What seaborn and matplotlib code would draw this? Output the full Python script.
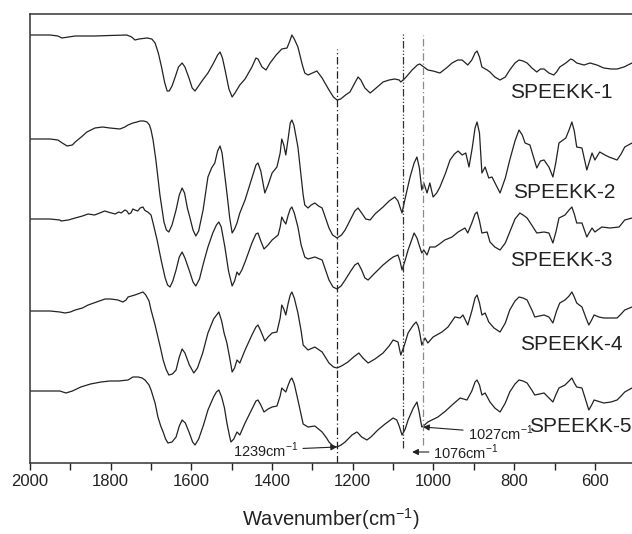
import matplotlib
matplotlib.use("Agg")
import matplotlib.pyplot as plt
import numpy as np
import pandas as pd
import seaborn as sns

# FTIR spectra of the SPEEKK membranes (offset transmittance, arbitrary units)
samples = ["SPEEKK-1", "SPEEKK-2", "SPEEKK-3", "SPEEKK-4", "SPEEKK-5"]

wn_1 = [2000, 1950, 1931, 1921, 1888, 1839, 1802, 1760, 1748, 1740, 1730, 1710, 1698, 1690,
        1682, 1674, 1666, 1660, 1655, 1648, 1641, 1632, 1623, 1616, 1606, 1598, 1591, 1584,
        1572, 1559, 1545, 1535, 1529, 1523, 1516, 1507, 1499, 1492, 1480, 1467, 1450, 1440,
        1435, 1425, 1415, 1405, 1390, 1376, 1363, 1356, 1351, 1345, 1336, 1325, 1319, 1311,
        1300, 1289, 1276, 1259, 1248, 1239, 1230, 1218, 1207, 1195, 1187, 1180, 1170, 1157,
        1145, 1125, 1110, 1096, 1085, 1081, 1070, 1053, 1040, 1034, 1024, 1014, 1001, 984,
        968, 954, 940, 929, 915, 905, 897, 892, 886, 880, 867, 860, 848, 835, 822, 811, 798,
        788, 778, 768, 756, 744, 735, 726, 714, 702, 695, 687, 672, 660, 654, 645, 627, 612,
        595, 578, 560, 545, 528, 508]
tr_1 = [428, 428, 427, 425, 427, 427, 427.5, 428, 426, 423, 424, 425, 424, 420,
        410, 396, 380, 372, 372, 377, 385, 396, 400, 396, 385, 375, 372, 376,
        383, 390, 400, 408, 411, 405, 392, 374, 366, 370, 378, 384, 396, 405,
        404, 396, 393, 400, 408, 414, 415, 422, 428, 424, 416, 398, 390, 388,
        390, 392, 385, 373, 366, 363, 364, 368, 371, 380, 386, 383, 375, 370,
        374, 381, 383, 384, 383, 381, 385, 393, 398, 399, 396, 393, 392, 390,
        395, 400, 403, 403, 398, 403, 410, 412, 406, 396, 393, 391, 386, 383, 386, 393, 400,
        403, 402, 400, 395, 391, 394, 394, 390, 388, 391, 396, 400, 404, 403, 400, 398, 400,
        398, 395, 394, 394, 396, 400]

wn_2 = [2000, 1950, 1931, 1920, 1908, 1895, 1888, 1870, 1859, 1839, 1820, 1802, 1777, 1765,
        1757, 1745, 1735, 1727, 1718, 1710, 1704, 1700, 1695, 1688, 1678, 1668, 1662, 1656,
        1648, 1638, 1630, 1623, 1617, 1610, 1604, 1596, 1589, 1582, 1571, 1559, 1550, 1542,
        1535, 1529, 1524, 1518, 1512, 1505, 1499, 1493, 1487, 1480, 1467, 1450, 1440, 1435,
        1428, 1418, 1410, 1400, 1388, 1380, 1376, 1371, 1366, 1360, 1355, 1351, 1346, 1340,
        1336, 1329, 1323, 1319, 1311, 1303, 1294, 1285, 1276, 1265, 1259, 1250, 1239, 1228,
        1219, 1205, 1195, 1187, 1178, 1168, 1157, 1145, 1125, 1110, 1096, 1088, 1083, 1078,
        1070, 1058, 1048, 1041, 1035, 1029, 1024, 1016, 1009, 1001, 992, 984, 970, 959, 948,
        939, 929, 920, 912, 904, 897, 892, 886, 880, 872, 863, 855, 845, 835, 822, 811, 798,
        788, 780, 773, 761, 744, 735, 726, 714, 704, 697, 689, 672, 664, 657, 651, 645, 632,
        620, 613, 607, 600, 588, 575, 565, 545, 535, 526, 508]
tr_2 = [324, 324, 323, 320, 317, 318, 321, 327, 331, 335, 336, 335, 334, 336,
        338, 340, 341, 342, 342, 341, 338, 333, 323, 303, 268, 241, 233, 231,
        238, 253, 268, 275, 270, 255, 246, 233, 227, 232, 253, 286, 295, 300,
        312, 317, 310, 290, 270, 245, 230, 234, 240, 250, 263, 285, 298, 300,
        292, 270, 278, 290, 296, 310, 324, 318, 308, 325, 340, 343, 338, 325,
        316, 290, 268, 258, 255, 258, 260, 257, 255, 242, 235, 228, 225, 228,
        233, 244, 252, 255, 250, 244, 243, 249, 256, 262, 266, 262, 256, 250,
        265, 286, 300, 306, 295, 273, 280, 270, 280, 266, 270, 276, 290, 303, 309,
        312, 308, 310, 296, 315, 335, 341, 330, 290, 296, 285, 286, 278, 270, 285, 303, 322,
        333, 328, 320, 318, 295, 302, 303, 296, 286, 300, 320, 325, 333, 341, 332, 316, 315,
        293, 302, 310, 303, 311, 308, 306, 303, 309, 316, 320]

wn_3 = [2000, 1950, 1926, 1923, 1905, 1888, 1870, 1856, 1840, 1827, 1815, 1807, 1798, 1789,
        1780, 1774, 1765, 1760, 1755, 1750, 1745, 1740, 1733, 1727, 1720, 1716, 1713, 1708,
        1700, 1695, 1685, 1675, 1665, 1659, 1653, 1646, 1638, 1630, 1623, 1616, 1604, 1596,
        1589, 1580, 1570, 1559, 1547, 1538, 1532, 1526, 1517, 1508, 1499, 1493, 1487, 1482,
        1475, 1467, 1450, 1440, 1435, 1428, 1420, 1410, 1400, 1385, 1380, 1376, 1371, 1366,
        1360, 1355, 1351, 1345, 1336, 1328, 1319, 1311, 1294, 1276, 1265, 1259, 1249, 1239,
        1229, 1219, 1205, 1195, 1187, 1178, 1170, 1162, 1145, 1125, 1110, 1100, 1088, 1083,
        1078, 1070, 1063, 1055, 1048, 1041, 1034, 1029, 1024, 1016, 1009, 996, 985, 972, 954,
        939, 922, 915, 905, 897, 892, 886, 880, 867, 860, 848, 835, 822, 811, 798, 786, 778,
        768, 755, 744, 726, 714, 704, 696, 689, 674, 664, 657, 651, 645, 632, 620, 613, 607,
        600, 583, 563, 540, 526, 508]
tr_3 = [244, 244, 243, 242, 243, 245, 247, 249, 248, 250, 252, 251, 250, 249,
        251, 250, 253, 252, 249, 250, 254, 253, 252, 255, 256, 253, 252, 251,
        248, 240, 223, 203, 185, 178, 176, 182, 193, 206, 211, 205, 191, 181,
        177, 184, 200, 216, 230, 238, 241, 236, 216, 192, 177, 182, 191, 188,
        193, 201, 220, 229, 230, 222, 214, 218, 223, 228, 236, 246, 242, 239,
        248, 254, 256, 250, 236, 218, 206, 204, 206, 203, 190, 183, 176, 174,
        177, 183, 192, 198, 200, 193, 185, 183, 190, 198, 203, 206, 208, 202,
        193, 203, 213, 222, 230, 225, 216, 210, 213, 208, 216, 216, 219, 223, 226,
        231, 235, 230, 240, 249, 251, 242, 230, 231, 221, 216, 213, 220, 231, 244, 250, 248,
        245, 237, 230, 231, 230, 220, 232, 245, 248, 253, 256, 249, 240, 240, 226, 231, 235,
        231, 236, 235, 236, 243, 245]

wn_4 = [2000, 1950, 1926, 1913, 1900, 1888, 1870, 1856, 1835, 1814, 1800, 1782, 1770, 1762,
        1757, 1740, 1727, 1720, 1713, 1705, 1700, 1690, 1683, 1676, 1670, 1663, 1656, 1647,
        1638, 1630, 1623, 1616, 1605, 1594, 1585, 1572, 1559, 1545, 1532, 1525, 1519, 1512,
        1505, 1499, 1493, 1487, 1480, 1467, 1450, 1440, 1435, 1428, 1418, 1410, 1400, 1388,
        1380, 1376, 1371, 1366, 1360, 1355, 1351, 1345, 1336, 1328, 1323, 1311, 1294, 1276,
        1265, 1259, 1248, 1239, 1228, 1212, 1198, 1185, 1175, 1162, 1145, 1125, 1110, 1100,
        1088, 1081, 1072, 1063, 1050, 1043, 1038, 1034, 1029, 1021, 1014, 1001, 979, 964,
        947, 934, 927, 915, 905, 897, 892, 886, 880, 872, 863, 850, 835, 822, 811, 798, 788,
        778, 768, 755, 749, 726, 714, 704, 695, 687, 674, 664, 657, 651, 645, 632, 622, 615,
        608, 602, 590, 578, 545, 535, 526, 508]
tr_4 = [152, 152, 151, 150, 151, 153, 155, 158, 161, 164, 164, 163, 161, 163,
        166, 168, 170, 171, 168, 162, 153, 138, 126, 114, 103, 94, 88, 89,
        93, 106, 114, 110, 98, 90, 95, 110, 130, 144, 151, 142, 130, 120,
        105, 91, 95, 103, 100, 113, 128, 136, 138, 132, 122, 126, 130, 131,
        145, 158, 154, 148, 160, 168, 171, 165, 150, 132, 118, 113, 116, 111,
        104, 100, 96, 95, 97, 101, 106, 110, 105, 100, 104, 110, 117, 123,
        121, 108, 118, 130, 138, 141, 137, 130, 118, 125, 120, 126, 131, 136,
        146, 145, 148, 138, 152, 165, 168, 160, 148, 150, 141, 135, 131, 140, 153, 162, 166,
        165, 163, 152, 146, 148, 146, 140, 152, 160, 163, 167, 171, 166, 160, 156, 145, 138,
        143, 148, 146, 145, 145, 149, 153, 156]

wn_5 = [2000, 1950, 1926, 1911, 1895, 1874, 1850, 1824, 1802, 1780, 1757, 1745, 1732, 1722,
        1715, 1705, 1700, 1690, 1683, 1676, 1670, 1664, 1658, 1648, 1638, 1630, 1623, 1615,
        1605, 1597, 1591, 1582, 1570, 1559, 1545, 1538, 1532, 1525, 1518, 1512, 1506, 1502,
        1495, 1487, 1480, 1467, 1450, 1440, 1435, 1428, 1420, 1410, 1400, 1388, 1380, 1376,
        1371, 1366, 1360, 1355, 1351, 1345, 1336, 1328, 1323, 1311, 1294, 1276, 1265, 1259,
        1249, 1239, 1229, 1219, 1202, 1190, 1187, 1178, 1165, 1155, 1138, 1120, 1100, 1091,
        1085, 1078, 1070, 1063, 1050, 1041, 1036, 1029, 1022, 1014, 989, 970, 954, 934, 917,
        905, 897, 892, 886, 880, 872, 860, 848, 835, 822, 811, 798, 788, 778, 768, 755, 749,
        726, 704, 697, 689, 674, 664, 657, 651, 645, 632, 622, 615, 608, 602, 578, 560, 545,
        535, 526, 508]
tr_5 = [72, 72, 72, 70, 72, 76, 79, 81, 82, 82, 83, 86, 86, 85,
        83, 78, 73, 60, 46, 37, 31, 24, 20, 21, 26, 37, 43, 40,
        30, 21, 18, 24, 38, 53, 66, 71, 73, 66, 55, 40, 28, 21,
        24, 31, 28, 40, 54, 62, 63, 58, 51, 54, 56, 57, 67, 75,
        73, 71, 78, 83, 85, 79, 63, 48, 39, 36, 37, 31, 25, 21,
        17, 16, 18, 21, 28, 31, 30, 26, 23, 26, 33, 39, 45, 43,
        37, 28, 34, 43, 55, 61, 52, 36, 38, 41, 46, 52, 58, 65, 63,
        72, 81, 83, 78, 68, 70, 61, 55, 51, 60, 71, 79, 83, 82, 80, 72, 68,
        70, 61, 68, 75, 78, 82, 85, 80, 76, 75, 62, 53, 58, 63, 60, 61, 63,
        67, 71, 75]

wavenumbers = [wn_1, wn_2, wn_3, wn_4, wn_5]
signals = [tr_1, tr_2, tr_3, tr_4, tr_5]

# Marked absorption bands (cm^-1)
bands = [1239, 1076, 1027]

frames = []
for name, wn, tr in zip(samples, wavenumbers, signals):
    frames.append(pd.DataFrame({"wavenumber": wn, "signal": tr, "sample": name}))
spectra = pd.concat(frames, ignore_index=True)

sns.set_style("ticks")
plt.rcParams["font.family"] = ["Liberation Sans", "DejaVu Sans"]
plt.rcParams["mathtext.fontset"] = "custom"
plt.rcParams["mathtext.rm"] = "Liberation Sans"

fig = plt.figure(figsize=(6.32, 5.34), dpi=100)
ax = fig.add_axes([30 / 632, 71 / 534, 602 / 632, 449 / 534])

sns.lineplot(data=spectra, x="wavenumber", y="signal", hue="sample", units="sample",
             estimator=None, sort=False, palette=["#222222"] * 5, legend=False,
             linewidth=0.9, ax=ax)
for line in ax.get_lines():
    line.set_solid_joinstyle("round")

ax.set_xlim(2000, 508)
ax.set_ylim(0, 449)

# Band markers
ax.vlines(bands[0], 0, 414, colors="#222222", linestyles=(0, (6, 2.2, 1, 2.2)), linewidth=0.9)
ax.vlines(bands[1], 15, 430, colors="#333333", linestyles=(0, (6, 1.6, 1, 1.6, 1, 1.6)), linewidth=0.9)
ax.vlines(bands[2], 18, 428, colors="#8a8a8a", linestyles=(0, (6, 2.2, 1, 2.2)), linewidth=0.9)

# Sample names
label_pos = [(811, 370), (803, 270), (811, 203), (786, 118), (763, 36)]
for name, (lx, ly) in zip(samples, label_pos):
    ax.text(lx, ly, name, fontsize=15, ha="left", va="center", color="#222222", clip_on=False)

arrow = dict(arrowstyle="-|>", color="#222222", lw=0.8, mutation_scale=9, shrinkA=1, shrinkB=0)
ax.annotate(f"{bands[0]}cm$^{{-1}}$", xy=(bands[0], 16), xytext=(1335, 13),
            fontsize=10.5, ha="right", va="center", color="#222222", arrowprops=arrow)
ax.annotate(f"{bands[1]}cm$^{{-1}}$", xy=(1053, 11), xytext=(1000, 11),
            fontsize=10.5, ha="left", va="center", color="#222222", arrowprops=arrow)
ax.annotate(f"{bands[2]}cm$^{{-1}}$", xy=(1026, 36), xytext=(915, 30),
            fontsize=10.5, ha="left", va="center", color="#222222", arrowprops=arrow)

ax.set_xticks(np.arange(2000, 500, -200))
ax.set_xticks(np.arange(1900, 500, -200), minor=True)
ax.set_yticks([])
ax.tick_params(axis="x", which="major", length=5, width=1, direction="out",
               labelsize=12, pad=3, colors="#222222")
ax.tick_params(axis="x", which="minor", length=5, width=1, direction="out", colors="#222222")
ax.set_xlabel("Wavenumber(cm$^{-1}$)", fontsize=14.5, labelpad=12, color="#222222")
ax.set_ylabel("")

for side in ["left", "top", "bottom"]:
    ax.spines[side].set_linewidth(1.1)
    ax.spines[side].set_color("#333333")
ax.spines["right"].set_visible(False)

fig.savefig("out.png", dpi=100)
